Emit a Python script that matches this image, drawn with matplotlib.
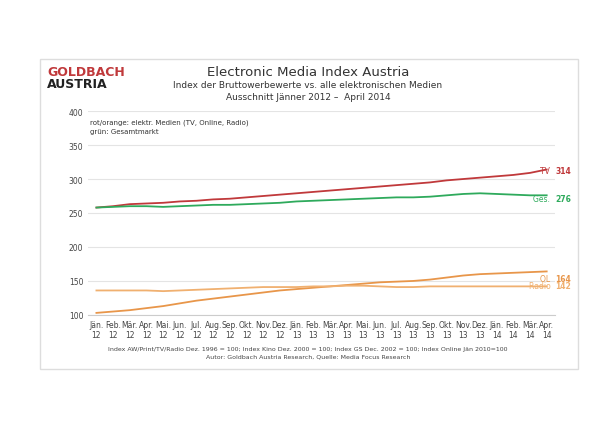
import matplotlib
matplotlib.use("Agg")
import matplotlib.pyplot as plt
from matplotlib.patches import Rectangle

months = ["Jän.","Feb.","Mär.","Apr.","Mai.","Jun.","Jul.","Aug.","Sep.","Okt.","Nov.","Dez."]
labels = [f"{m}\n12" for m in months] + [f"{m}\n13" for m in months] + [f"{m}\n14" for m in months[:4]]
tv    = [258,260,263,264,265,267,268,270,271,273,275,277,279,281,283,285,287,289,291,293,295,298,300,302,304,306,309,314]
ges   = [258,259,260,260,259,260,261,262,262,263,264,265,267,268,269,270,271,272,273,273,274,276,278,279,278,277,276,276]
ol    = [103,105,107,110,113,117,121,124,127,130,133,136,138,140,142,144,146,148,149,150,152,155,158,160,161,162,163,164]
radio = [136,136,136,136,135,136,137,138,139,140,141,141,141,142,142,143,143,142,141,141,142,142,142,142,142,142,142,142]

fig = plt.figure(figsize=(6.16,4.31), dpi=100)
fig.patches.append(Rectangle((40/616, 1-370/431), 538/616, 310/431, transform=fig.transFigure,
                             fill=False, edgecolor="#dddddd", lw=1))
ax = fig.add_axes([0.143, 0.267, 0.758, 0.473])
x = range(len(tv))
ax.plot(x, tv, color="#c0393b", lw=1.3)
ax.plot(x, ges, color="#2eaa5c", lw=1.3)
ax.plot(x, ol, color="#e8964a", lw=1.3)
ax.plot(x, radio, color="#f0b070", lw=1.3)
ax.set_ylim(100, 400)
ax.set_xlim(-0.5, len(tv)-0.5)
ax.set_yticks(range(100, 401, 50))
ax.set_xticks(list(x))
ax.set_xticklabels(labels, fontsize=5.5, color="#444444")
ax.tick_params(axis="y", labelsize=5.5, colors="#444444", length=0)
ax.tick_params(axis="x", length=0)
ax.grid(axis="y", color="#e4e4e4", lw=0.8)
ax.set_axisbelow(True)
for s in ["top","right","left"]:
    ax.spines[s].set_visible(False)
ax.spines["bottom"].set_color("#cccccc")

def lab(y, name, val, col):
    ax.annotate(f"{name}  ", (1.0, y), xycoords=("axes fraction","data"), xytext=(0,0), textcoords="offset points",
                ha="right", va="center", fontsize=5.5, color=col)
    ax.annotate(f"{val}", (1.0, y), xycoords=("axes fraction","data"), xytext=(0,0), textcoords="offset points",
                ha="left", va="center", fontsize=5.5, color=col, fontweight="bold")
lab(313, "TV", 314, "#c0393b")
lab(272, "Ges.", 276, "#2eaa5c")
lab(154, "OL", 164, "#e8964a")
lab(143, "Radio", 142, "#f0b070")

fig.text(47/616, 1-73/431, "GOLDBACH", color="#c0393b", fontsize=9, fontweight="bold", va="center")
fig.text(47/616, 1-85/431, "AUSTRIA", color="#222222", fontsize=9, fontweight="bold", va="center")
fig.text(0.5, 1-73/431, "Electronic Media Index Austria", ha="center", va="center", fontsize=9.5, color="#333333")
fig.text(0.5, 1-86/431, "Index der Bruttowerbewerte vs. alle elektronischen Medien", ha="center", va="center", fontsize=6.5, color="#333333")
fig.text(0.5, 1-98/431, "Ausschnitt Jänner 2012 –  April 2014", ha="center", va="center", fontsize=6.5, color="#333333")
fig.text(90/616, 1-123/431, "rot/orange: elektr. Medien (TV, Online, Radio)", fontsize=5, color="#333333", va="center")
fig.text(90/616, 1-132/431, "grün: Gesamtmarkt", fontsize=5, color="#333333", va="center")
fig.text(0.5, 1-350/431, "Index AW/Print/TV/Radio Dez. 1996 = 100; Index Kino Dez. 2000 = 100; Index GS Dec. 2002 = 100; Index Online Jän 2010=100",
         ha="center", va="center", fontsize=4.5, color="#444444")
fig.text(0.5, 1-357/431, "Autor: Goldbach Austria Research, Quelle: Media Focus Research", ha="center", va="center", fontsize=4.5, color="#444444")
fig.savefig("out.png", dpi=100)
